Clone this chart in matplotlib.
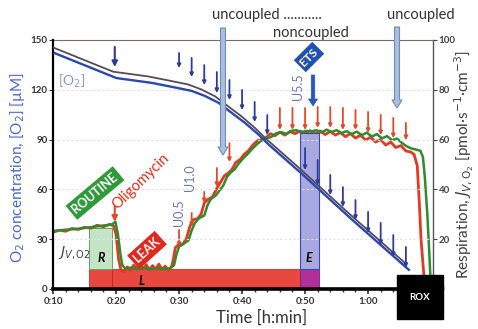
import matplotlib
matplotlib.use('Agg')
import matplotlib.pyplot as plt
import matplotlib.patheffects as pe
from matplotlib.patches import Rectangle, FancyArrow
from matplotlib.transforms import Affine2D

plt.rcParams['font.family'] = ['Lato', 'DejaVu Sans']
plt.rcParams['mathtext.fontset'] = 'dejavusans'

# ---------------- data ----------------
o2_time = [10.0, 19.8, 25.4, 28.6, 31.7, 33.8, 36.0, 38.1, 40.2, 42.4, 44.0, 49.2, 57.1, 66.2]
o2_conc = [144.0, 129.0, 126.1, 123.7, 121.3, 118.3, 114.1, 108.0, 102.0, 94.8, 88.8, 71.4, 44.0, 13.5]

green_time = [10.0, 12.0, 14.0, 16.0, 18.0, 19.3, 19.9, 20.3, 20.7, 21.0, 21.5, 22.5, 23.5, 24.5,
              25.5, 26.5, 27.5, 28.5, 29.2, 29.6, 30.0, 30.8, 31.5, 32.0, 32.5, 33.2, 34.0, 34.5,
              35.0, 35.8, 36.4, 37.0, 37.6, 38.2, 38.8, 39.5, 40.2, 40.8, 41.5, 42.3, 43.0, 43.8,
              44.6, 45.4, 46.2, 47.0, 47.8, 48.6, 49.4, 50.2, 51.0, 51.8, 52.6, 53.4, 54.2, 55.0,
              55.8, 56.6, 57.4, 58.2, 59.0, 59.8, 60.6, 61.4, 62.2, 63.0, 63.8, 64.6, 65.4, 66.0,
              66.8, 67.6, 68.3, 68.7, 69.0, 69.4, 69.7, 69.9]
green_flux = [23.3, 23.8, 24.2, 24.8, 25.5, 25.8, 27.0, 22.0, 14.0, 9.5, 8.2, 8.6, 8.0, 8.5,
              7.9, 8.4, 8.0, 8.3, 9.5, 14.0, 17.0, 18.3, 19.5, 23.5, 26.5, 28.5, 29.5, 33.5,
              36.0, 37.5, 39.5, 41.5, 45.0, 46.8, 48.0, 50.5, 52.5, 54.0, 56.0, 58.0, 59.5, 60.5,
              61.0, 62.5, 63.0, 62.3, 63.5, 63.8, 63.0, 63.5, 63.2, 63.8, 62.8, 64.0, 63.0, 63.8,
              62.6, 63.4, 62.2, 63.2, 61.8, 62.8, 61.2, 62.2, 60.5, 61.4, 59.8, 60.4, 58.6, 57.5,
              56.5, 56.0, 55.5, 53.0, 45.0, 30.0, 15.0, 4.0]

red_time = [10.0, 11.0, 12.0, 13.0, 14.0, 15.0, 16.0, 17.0, 18.0, 19.0, 19.6, 20.0, 20.4, 20.8,
            21.3, 21.8, 22.3, 22.8, 23.3, 23.8, 24.3, 24.8, 25.3, 25.8, 26.3, 26.8, 27.3, 27.8,
            28.3, 28.8, 29.1, 29.4, 29.9, 30.6, 31.2, 31.7, 32.2, 32.9, 33.5, 34.0, 34.6, 35.3,
            35.9, 36.5, 37.2, 37.8, 38.4, 39.0, 39.7, 40.3, 41.0, 41.7, 42.4, 43.1, 43.8, 44.5,
            45.2, 46.0, 46.8, 47.6, 48.4, 49.2, 50.0, 50.8, 51.6, 52.4, 53.2, 54.0, 54.8, 55.6,
            56.4, 57.2, 58.0, 58.8, 59.6, 60.4, 61.2, 62.0, 62.8, 63.6, 64.4, 65.2, 66.0, 66.8,
            67.3, 67.8, 68.1, 68.4, 68.9]
red_flux = [22.8, 23.6, 23.2, 24.3, 23.9, 24.8, 24.4, 25.6, 25.0, 26.0, 25.4, 22.0, 12.0, 7.5,
            6.8, 8.9, 7.4, 9.6, 8.2, 10.2, 8.0, 9.8, 7.6, 9.4, 8.0, 10.0, 7.8, 9.2,
            7.6, 8.8, 12.0, 16.5, 17.8, 18.0, 20.5, 25.0, 27.8, 28.2, 30.0, 34.5, 36.0, 37.0,
            40.0, 42.5, 45.5, 46.5, 48.0, 50.8, 52.0, 54.0, 55.5, 57.8, 59.5, 60.0, 60.8, 62.4,
            61.5, 63.0, 61.8, 63.2, 62.4, 63.4, 62.5, 63.6, 62.3, 63.5, 62.0, 63.3, 61.8, 62.8,
            61.2, 62.4, 60.6, 61.8, 59.8, 61.0, 59.0, 60.0, 57.8, 59.0, 56.8, 57.6, 55.4, 55.0,
            54.0, 49.5, 36.0, 20.0, 4.0]

# titration marks (time, top, bottom) -- O2 marks in uM, flux marks in pmol/(s.cm3)
blue_mark_time = [30, 32, 34, 36, 38, 40, 42, 44, 50, 52, 54, 56, 58, 60, 62, 64, 66]
blue_mark_top = [142.2, 139.2, 134.9, 130.7, 125.9, 119.9, 112.7, 104.8, 84.9, 77.7, 68.7, 61.4, 53.6, 46.4, 39.8, 32.5, 25.3]
blue_mark_bottom = [133.1, 127.7, 122.9, 118.1, 113.9, 107.8, 100.6, 92.8, 71.7, 62.7, 56.6, 49.4, 41.6, 33.7, 26.5, 19.3, 12.7]
red_mark_time = [30, 32, 34, 36, 38, 46, 48, 50, 52, 54, 56, 58, 60, 62, 64, 66]
red_mark_top = [23.7, 30.5, 39.0, 48.6, 58.6, 72.7, 72.7, 72.7, 73.1, 73.1, 72.7, 71.9, 71.1, 69.9, 68.7, 66.7]
red_mark_bottom = [16.9, 24.9, 34.5, 41.0, 51.0, 63.9, 63.9, 63.9, 64.7, 64.7, 63.9, 63.9, 62.7, 61.8, 60.6, 59.8]
o2_mark_time = 19.8
o2_mark = (145.8, 133.7)
oligo_mark = (33.0, 27.0)

# phase blocks
routine_start, leak_start, ets_start, ets_end = 15.7, 19.4, 49.2, 52.2
routine_flux, leak_flux, ets_flux = 24.5, 8.0, 62.7

x_ticks = [10, 20, 30, 40, 50, 60]
x_tick_labels = ['0:10', '0:20', '0:30', '0:40', '0:50', '1:00']
o2_ticks = [0, 30, 60, 90, 120, 150]
flux_ticks = [0, 20, 40, 60, 80, 100]

# ---------------- figure ----------------
W, H = 478, 329
fig = plt.figure(figsize=(W / 100, H / 100), dpi=100)
fig.patch.set_facecolor('white')
PX = Affine2D().scale(1.0 / W, -1.0 / H).translate(0, 1) + fig.transFigure


def px(x, y):
    return (x / W, 1 - y / H)


ax = fig.add_axes([53 / W, 1 - 289 / H, (433 - 53) / W, (289 - 40) / H])
axo = ax.twinx()
ax.yaxis.tick_right()
axo.yaxis.tick_left()
ax.set_xlim(10, 70.3)
ax.set_ylim(0, 100)
axo.set_ylim(0, 150)
axo.patch.set_visible(False)

# grid (faint)
for v in o2_ticks[1:-1]:
    axo.axhline(v, color='#e2e2e2', lw=0.8, ls=(0, (2, 2)), zorder=0)

# spines
ax.spines['left'].set_visible(False)
ax.spines['bottom'].set_linewidth(2.6)
ax.spines['bottom'].set_color('black')
ax.spines['right'].set_color('#555555')
ax.spines['right'].set_linewidth(1.0)
ax.spines['top'].set_color('#7a6a6a')
ax.spines['top'].set_linewidth(0.8)
for s in ['right', 'top', 'bottom']:
    axo.spines[s].set_visible(False)
axo.spines['left'].set_linewidth(1.6)
axo.spines['left'].set_color('black')

ax.set_xticks(x_ticks)
ax.set_xticklabels(x_tick_labels)
ax.set_xticks(range(10, 70, 2), minor=True)
ax.tick_params(axis='x', which='major', length=3.5, width=1.2, labelsize=7, pad=2, colors='#333333')
ax.tick_params(axis='x', which='minor', length=2.5, width=1.0, colors='#333333')
ax.set_yticks(flux_ticks)
ax.tick_params(axis='y', length=3, width=0.8, labelsize=7, pad=1, colors='#444444')
axo.set_yticks(o2_ticks)
axo.tick_params(axis='y', length=3, width=0.8, labelsize=7, pad=1, colors='#333333')
for lab in ax.get_xticklabels() + ax.get_yticklabels() + axo.get_yticklabels():
    lab.set_fontweight('bold')

# phase blocks
ax.add_patch(Rectangle((routine_start, 0), ets_start - routine_start, leak_flux,
                       facecolor='#e8483e', edgecolor='#c83028', lw=0.6, zorder=2))
ax.plot([leak_start, leak_start], [0, leak_flux], color='#b02820', lw=0.6, zorder=2)
ax.add_patch(Rectangle((ets_start, 0), ets_end - ets_start, leak_flux,
                       facecolor='#b0309a', edgecolor='#7a2080', lw=0.6, zorder=2))
ax.add_patch(Rectangle((routine_start, leak_flux), leak_start - routine_start, routine_flux - leak_flux,
                       facecolor='#c4e4c6', edgecolor='#5aa860', lw=0.7, zorder=2))
ax.add_patch(Rectangle((ets_start, leak_flux), ets_end - ets_start, ets_flux - leak_flux,
                       facecolor='#a9a9e2', edgecolor='#3a4aa8', lw=0.8, zorder=4))

# respiration traces
ax.plot(red_time, red_flux, color='#e23a22', lw=2.0, zorder=3, solid_joinstyle='round')
ax.plot(green_time, green_flux, color='#2e8b2e', lw=1.8, zorder=3, solid_joinstyle='round')

# O2 double line
axo.plot(o2_time, o2_conc, color='none', lw=1, zorder=5,
         path_effects=[pe.Stroke(offset=(-1.2, 2.3), linewidth=1.3, foreground='#5a4a55'),
                       pe.Stroke(offset=(1.2, -2.3), linewidth=1.7, foreground='#2a48b0')])

# titration marks
for t, a, b in zip(blue_mark_time, blue_mark_top, blue_mark_bottom):
    axo.annotate('', xy=(t, b), xytext=(t, a), zorder=6,
                 arrowprops=dict(arrowstyle='-|>', color='#2e3c98', lw=1.3,
                                 mutation_scale=5, shrinkA=0, shrinkB=0))
for t, a, b in zip(red_mark_time, red_mark_top, red_mark_bottom):
    ax.annotate('', xy=(t, b), xytext=(t, a), zorder=6,
                arrowprops=dict(arrowstyle='-|>', color='#e04a2a', lw=1.3,
                                mutation_scale=5, shrinkA=0, shrinkB=0))
axo.annotate('', xy=(o2_mark_time, o2_mark[1]), xytext=(o2_mark_time, o2_mark[0]), zorder=6,
             arrowprops=dict(arrowstyle='-|>', color='#2e3c98', lw=1.5,
                             mutation_scale=8, shrinkA=0, shrinkB=0))
ax.annotate('', xy=(o2_mark_time, oligo_mark[1]), xytext=(o2_mark_time, oligo_mark[0]), zorder=6,
            arrowprops=dict(arrowstyle='-|>', color='#e04a2a', lw=1.5,
                            mutation_scale=8, shrinkA=0, shrinkB=0))

# big hollow arrows (uncoupled)
for (x, y0, y1) in [(223, 28, 155), (397, 27, 108)]:
    fig.add_artist(FancyArrow(x, y0, 0, y1 - y0, width=5, head_width=10, head_length=8,
                              length_includes_head=True, transform=PX,
                              facecolor='#a9bfdc', edgecolor='#6e8cb8', lw=0.8, zorder=7))
# ETS arrow
fig.add_artist(FancyArrow(313, 75, 0, 31, width=3.5, head_width=9, head_length=7,
                          length_includes_head=True, transform=PX,
                          facecolor='#2a58b8', edgecolor='#2a58b8', lw=0.5, zorder=7))

# ROX box
fig.add_artist(Rectangle((397, 275), 46, 44, transform=PX, facecolor='black',
                         edgecolor='black', zorder=9))
fig.text(*px(420, 297), 'ROX', color='white', fontsize=7, fontweight='bold',
         ha='center', va='center', zorder=10)

# labels in plot
fig.text(*px(95, 193), 'ROUTINE', rotation=40, ha='center', va='center', color='white',
         fontsize=9, fontweight='bold', zorder=8,
         bbox=dict(boxstyle='square,pad=0.25', fc='#2e9a3a', ec='none'))
fig.text(*px(147, 250), 'LEAK', rotation=42, ha='center', va='center', color='white',
         fontsize=9, fontweight='bold', zorder=8,
         bbox=dict(boxstyle='square,pad=0.25', fc='#e0281e', ec='none'))
fig.text(*px(309, 57), 'ETS', rotation=45, ha='center', va='center', color='white',
         fontsize=8.5, fontweight='bold', zorder=8,
         bbox=dict(boxstyle='square,pad=0.25', fc='#2050b0', ec='none'))
fig.text(*px(141, 182), 'Oligomycin', rotation=44, ha='center', va='center',
         color='#e0301e', fontsize=10.5, zorder=8)
fig.text(*px(179, 213), 'U0.5', rotation=90, ha='center', va='center', color='#6878b0', fontsize=9, zorder=8)
fig.text(*px(190, 178), 'U1.0', rotation=90, ha='center', va='center', color='#6878b0', fontsize=9, zorder=8)
fig.text(*px(298, 87), 'U5.5', rotation=90, ha='center', va='center', color='#6878b0', fontsize=9, zorder=8)
fig.text(*px(72, 81), '[O$_2$]', ha='center', va='center', color='#8a9ac8', fontsize=10, zorder=8)
fig.text(*px(74, 253), '$J_{V,\\mathrm{O2}}$', ha='center', va='center', color='#444444', fontsize=10, zorder=8)
fig.text(*px(101, 258), 'R', ha='center', va='center', fontsize=9, fontweight='bold', style='italic', zorder=8)
fig.text(*px(142, 281), 'L', ha='center', va='center', fontsize=9, fontweight='bold', style='italic', zorder=8)
fig.text(*px(309, 258), 'E', ha='center', va='center', fontsize=9, fontweight='bold', style='italic', zorder=8)

fig.text(*px(212, 15), 'uncoupled ...........', ha='left', va='center', fontsize=10.5, color='#333333')
fig.text(*px(273, 33), 'noncoupled', ha='left', va='center', fontsize=10.5, color='#333333')
fig.text(*px(387, 15), 'uncoupled', ha='left', va='center', fontsize=10.5, color='#333333')

# axis labels
fig.text(*px(18, 168), 'O$_2$ concentration, [O$_2$] [µM]', rotation=90, ha='center', va='center',
         color='#4a6ac8', fontsize=11)
fig.text(*px(464, 165), 'Respiration, $J_{V,\\mathrm{O_2}}$ [pmol·s$^{-1}$·cm$^{-3}$]', rotation=90,
         ha='center', va='center', color='#404040', fontsize=11)
fig.text(*px(262, 318), 'Time [h:min]', ha='center', va='center', color='#333333', fontsize=12)

fig.savefig('out.png', dpi=100, facecolor='white')
